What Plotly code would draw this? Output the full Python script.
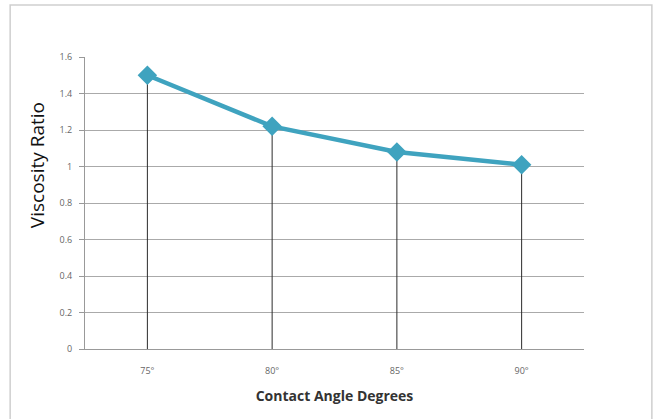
import plotly.graph_objects as go

categories = ["75°", "80°", "85°", "90°"]
viscosity_ratio = [1.50, 1.22, 1.08, 1.01]
y_ticks = [0, 0.2, 0.4, 0.6, 0.8, 1.0, 1.2, 1.4, 1.6]
y_tick_labels = ["0", "0.2", "0.4", "0.6", "0.8", "1", "1.2", "1.4", "1.6"]

# drop lines from each point to zero
drop_x, drop_y = [], []
for c, v in zip(categories, viscosity_ratio):
    drop_x += [c, c, None]
    drop_y += [0, v, None]

fig = go.Figure()
fig.add_trace(go.Scatter(x=drop_x, y=drop_y, mode="lines",
                         line=dict(color="#2b2b2b", width=1), hoverinfo="skip",
                         showlegend=False))
fig.add_trace(go.Scatter(x=categories, y=viscosity_ratio, mode="lines+markers",
                         line=dict(color="#3fa3bf", width=4.5),
                         marker=dict(symbol="diamond", size=15, color="#3fa3bf"),
                         showlegend=False))

fig.update_layout(
    width=660, height=419,
    margin=dict(l=85, r=76, t=57, b=70),
    paper_bgcolor="white", plot_bgcolor="white",
    font=dict(family="Open Sans", color="#555"),
    xaxis=dict(type="category", range=[-0.5, 3.5], showgrid=False,
               showline=True, linecolor="#999", linewidth=1,
               tickfont=dict(size=9, color="#666"), ticks="", ticklen=0,
               ticklabelstandoff=13,
               title=dict(text="<b>Contact Angle Degrees</b>", standoff=15,
                          font=dict(size=14, color="#333"))),
    yaxis=dict(range=[0, 1.6], tickvals=y_ticks, ticktext=y_tick_labels,
               showgrid=True, gridcolor="#aaaaaa", gridwidth=1.4,
               showline=True, linecolor="#999", linewidth=1,
               ticks="outside", ticklen=5, tickcolor="#999",
               ticklabelstandoff=5,
               tickfont=dict(size=9, color="#666"), zeroline=False),
    annotations=[dict(text="Viscosity Ratio", xref="paper", yref="paper",
                      x=-0.096, y=0.63, xanchor="center", yanchor="middle",
                      textangle=-90, showarrow=False,
                      font=dict(size=19, color="#111", family="Open Sans"))],
    shapes=[dict(type="rect", xref="paper", yref="paper",
                 x0=-0.15, x1=1.136, y0=-0.3, y1=1.178,
                 line=dict(color="#cfcfcf", width=1.5), layer="below")],
)

fig.write_html("out.html", config={"displayModeBar": False},
               post_script="document.body.style.margin='0';")
